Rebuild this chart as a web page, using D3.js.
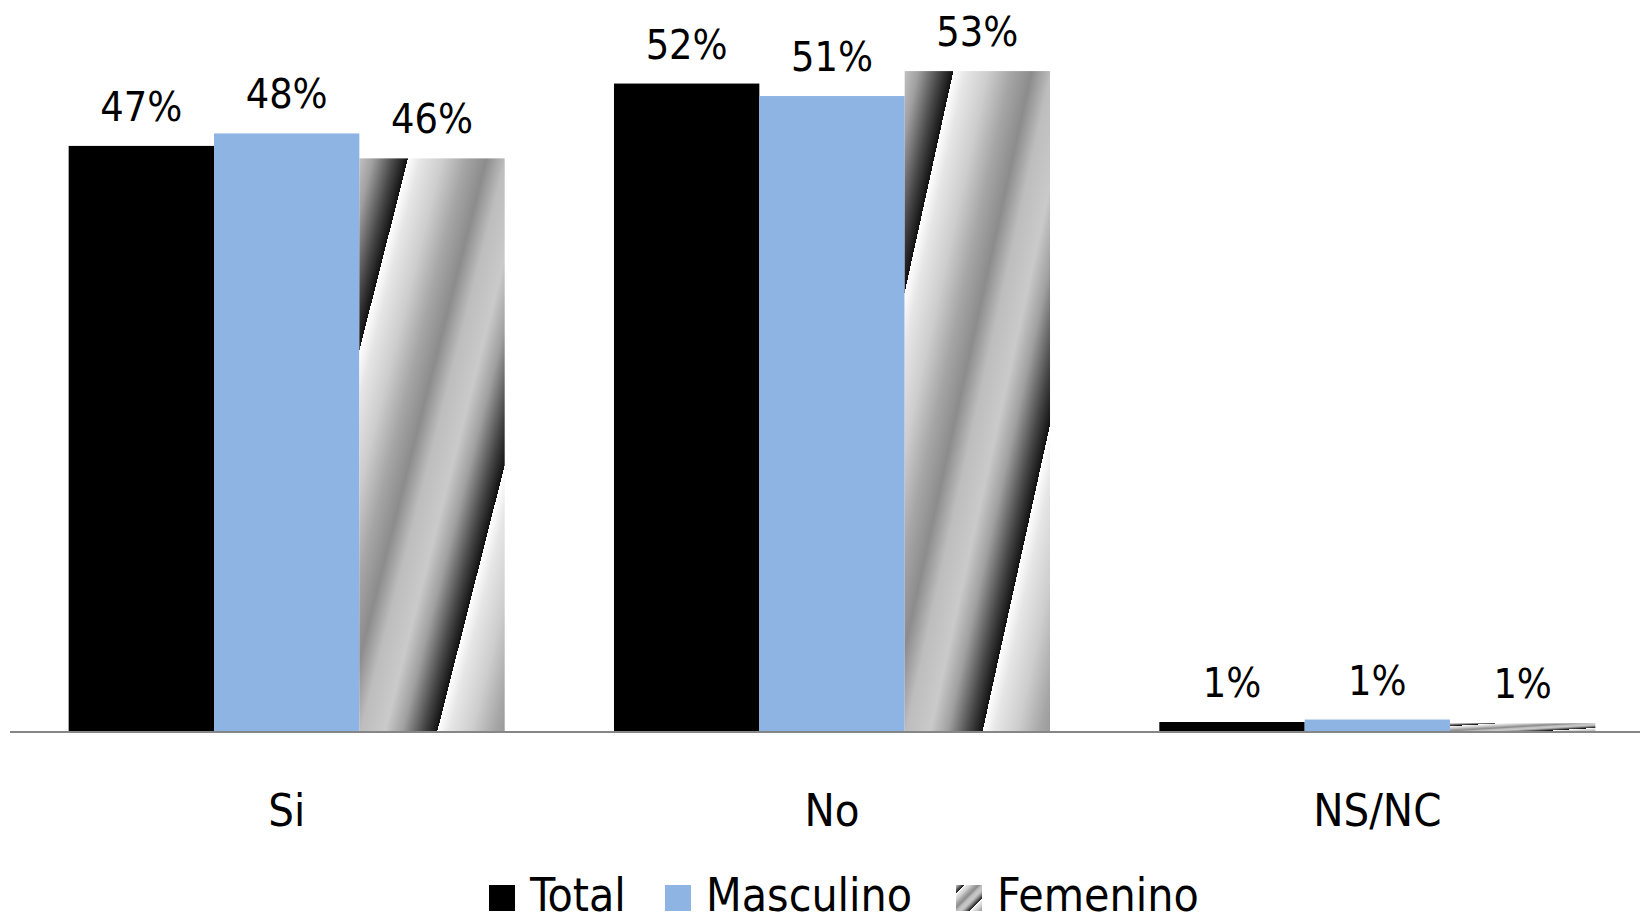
<!DOCTYPE html>
<html>
<head>
<meta charset="utf-8">
<script src="https://cdn.jsdelivr.net/npm/d3@7"></script>
<style>
  html, body { margin: 0; padding: 0; background: #ffffff; }
  svg { display: block; }
  text { font-family: "Liberation Sans Narrow", "DejaVu Sans Condensed", "Liberation Sans", sans-serif; fill: #000; }
</style>
</head>
<body>
<svg id="chart" width="1640" height="922"></svg>
<script>
const categories = ["Si", "No", "NS/NC"];
const seriesNames = ["Total", "Masculino", "Femenino"];
const totalValues = [0.47, 0.52, 0.008];
const masculinoValues = [0.48, 0.51, 0.010];
const femeninoValues = [0.46, 0.53, 0.007];
const seriesValues = [totalValues, masculinoValues, femeninoValues];

const W = 1640, H = 922;
const svg = d3.select("#chart");
const defs = svg.append("defs");

// Sawtooth diagonal gradient used for "Femenino"
const grad = defs.append("linearGradient")
  .attr("id", "femGrad")
  .attr("gradientUnits", "objectBoundingBox")
  .attr("spreadMethod", "repeat")
  .attr("x1", 0.335).attr("y1", 0)
  .attr("x2", 0.935).attr("y2", 0.6);
[
  [0, "#ffffff"], [0.07, "#e6e6e6"], [0.2, "#cdcdcd"], [0.33, "#a6a6a6"],
  [0.45, "#8c8c8c"], [0.56, "#bdbdbd"], [0.7, "#cacaca"], [0.8, "#a0a0a0"],
  [0.92, "#474747"], [1, "#111111"]
].forEach(([o, c]) => grad.append("stop").attr("offset", o).attr("stop-color", c));

const fills = { "Total": "#000000", "Masculino": "#8EB4E3", "Femenino": "url(#femGrad)" };

const baseY = 732;
const x0 = d3.scaleBand().domain(categories).range([14, 1650]).paddingInner(0).paddingOuter(0);
const x1 = d3.scaleBand().domain(seriesNames).range([0, x0.bandwidth()]).paddingInner(0).paddingOuter(0.376);
const y = d3.scaleLinear().domain([0, 0.55]).range([baseY, baseY - 0.55 * 1247]);

const rows = [];
categories.forEach((c, ci) => {
  seriesNames.forEach((s, si) => rows.push({ cat: c, series: s, value: seriesValues[si][ci] }));
});

const g = svg.append("g");
g.selectAll("rect.bar").data(rows).enter().append("rect")
  .attr("class", "bar")
  .attr("x", d => x0(d.cat) + x1(d.series))
  .attr("y", d => y(d.value))
  .attr("width", x1.bandwidth())
  .attr("height", d => baseY - y(d.value))
  .attr("fill", d => fills[d.series]);

// data labels
const fmt = d3.format(".0%");
g.selectAll("text.lbl").data(rows).enter().append("text")
  .attr("class", "lbl")
  .attr("x", d => x0(d.cat) + x1(d.series) + x1.bandwidth() / 2)
  .attr("y", d => y(d.value) - 25)
  .attr("text-anchor", "middle")
  .attr("font-size", 41)
  .text(d => fmt(d.value));

// category axis
const xAxis = d3.axisBottom(x0).tickSize(0).tickPadding(0);
const axG = svg.append("g").attr("transform", `translate(0,${baseY})`).call(xAxis);
axG.select(".domain").remove();
axG.selectAll(".tick text")
  .attr("y", 94)
  .attr("dy", 0)
  .attr("font-size", 45)
  .attr("font-family", null)
  .style("font-family", "'Liberation Sans Narrow', 'DejaVu Sans Condensed', sans-serif")
  .attr("fill", "#000");
svg.append("line")
  .attr("x1", 10).attr("x2", W)
  .attr("y1", baseY).attr("y2", baseY)
  .attr("stroke", "#868686").attr("stroke-width", 2);

// legend
const legendX = [489, 665, 956];
const leg = svg.append("g");
seriesNames.forEach((s, i) => {
  leg.append("rect").attr("x", legendX[i]).attr("y", 885).attr("width", 26).attr("height", 26)
    .attr("fill", fills[s]);
  leg.append("text").attr("x", legendX[i] + 41).attr("y", 911).attr("font-size", 46).text(s);
});
</script>
</body>
</html>
